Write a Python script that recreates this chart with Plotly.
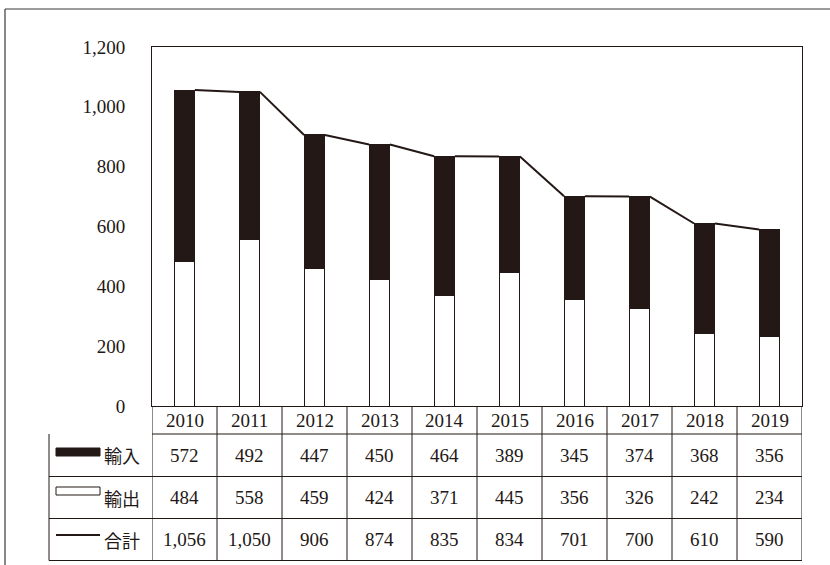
import plotly.graph_objects as go

# Yearly trade volume: imports (輸入), exports (輸出) and their total (合計)
years = ["2010", "2011", "2012", "2013", "2014", "2015", "2016", "2017", "2018", "2019"]
imports = [572, 492, 447, 450, 464, 389, 345, 374, 368, 356]
exports = [484, 558, 459, 424, 371, 445, 356, 326, 242, 234]
totals = [1056, 1050, 906, 874, 835, 834, 701, 700, 610, 590]
row_labels = ["輸入", "輸出", "合計"]
y_ticks = [0, 200, 400, 600, 800, 1000, 1200]

INK = "#231815"
FONT = "Times New Roman"
JP_FONT = "Noto Sans CJK JP"
W, H = 830, 565
L, R, T, B = 152, 802, 47, 406  # plot area in pixels
BAR_W = 0.32


def px_x(px):
    return (px - L) / (R - L)


def px_y(py):
    return (B - py) / (B - T)


xs = list(range(len(years)))

fig = go.Figure()
fig.add_trace(go.Bar(
    x=xs, y=exports, name=row_labels[1], width=BAR_W,
    marker=dict(color="white", line=dict(color=INK, width=1)),
))
fig.add_trace(go.Bar(
    x=xs, y=imports, name=row_labels[0], width=BAR_W,
    marker=dict(color=INK, line=dict(color=INK, width=1)),
))

# Series lines joining the tops of neighbouring stacks
lx, ly = [], []
for i in range(len(xs) - 1):
    lx += [xs[i] + BAR_W / 2, xs[i + 1] - BAR_W / 2, None]
    ly += [totals[i], totals[i + 1], None]
fig.add_trace(go.Scatter(
    x=lx, y=ly, mode="lines", name=row_labels[2],
    line=dict(color=INK, width=2), connectgaps=False,
))

shapes = []
annotations = []

# Data table below the axis
row_lines = [406, 434, 476.5, 518.5, 560.5]
table_left = px_x(49)
shapes.append(dict(type="line", xref="paper", yref="paper",
                   x0=0, x1=1, y0=px_y(row_lines[1]), y1=px_y(row_lines[1]),
                   line=dict(color=INK, width=1)))
for py in row_lines[2:]:
    shapes.append(dict(type="line", xref="paper", yref="paper",
                       x0=table_left, x1=1, y0=px_y(py), y1=px_y(py),
                       line=dict(color=INK, width=1)))
shapes.append(dict(type="line", xref="paper", yref="paper",
                   x0=table_left, x1=table_left,
                   y0=px_y(row_lines[1]), y1=px_y(row_lines[-1]),
                   line=dict(color=INK, width=1)))
for i in range(len(years) + 1):
    shapes.append(dict(type="line", xref="x", yref="paper",
                       x0=i - 0.5, x1=i - 0.5,
                       y0=px_y(row_lines[0]), y1=px_y(row_lines[-1]),
                       line=dict(color=INK, width=1)))

# year header
for i, yr in enumerate(years):
    annotations.append(dict(x=i, y=px_y((row_lines[0] + row_lines[1]) / 2),
                            xref="x", yref="paper", text=yr, showarrow=False,
                            font=dict(family=FONT, size=19, color=INK),
                            xanchor="center", yanchor="middle"))

rows = [imports, exports, totals]
for r, vals in enumerate(rows):
    yc = (row_lines[r + 1] + row_lines[r + 2]) / 2
    for i, v in enumerate(vals):
        annotations.append(dict(x=i, y=px_y(yc), xref="x", yref="paper",
                                text=f"{v:,}", showarrow=False,
                                font=dict(family=FONT, size=19, color=INK),
                                xanchor="center", yanchor="middle"))
    annotations.append(dict(x=px_x(142), y=px_y(yc), xref="paper", yref="paper",
                            text=row_labels[r], showarrow=False,
                            font=dict(family=JP_FONT, size=18, color=INK),
                            xanchor="right", yanchor="middle"))

# legend keys inside the label column
shapes.append(dict(type="rect", xref="paper", yref="paper",
                   x0=px_x(56), x1=px_x(100), y0=px_y(448), y1=px_y(456),
                   fillcolor=INK, line=dict(color=INK, width=1)))
shapes.append(dict(type="rect", xref="paper", yref="paper",
                   x0=px_x(56), x1=px_x(100), y0=px_y(487), y1=px_y(495),
                   fillcolor="white", line=dict(color=INK, width=1)))
shapes.append(dict(type="line", xref="paper", yref="paper",
                   x0=px_x(56), x1=px_x(100), y0=px_y(535), y1=px_y(535),
                   line=dict(color=INK, width=2)))

# outer frame
shapes.append(dict(type="line", xref="paper", yref="paper",
                   x0=px_x(5), x1=px_x(840), y0=px_y(9), y1=px_y(9),
                   line=dict(color="#3a3a3a", width=1.2)))
shapes.append(dict(type="line", xref="paper", yref="paper",
                   x0=px_x(5), x1=px_x(5), y0=px_y(9), y1=px_y(580),
                   line=dict(color="#3a3a3a", width=1.2)))

fig.update_layout(
    width=W, height=H,
    margin=dict(l=L, r=W - R, t=T, b=H - B),
    barmode="stack",
    showlegend=False,
    plot_bgcolor="white", paper_bgcolor="white",
    font=dict(family=FONT, size=19, color=INK),
    shapes=shapes,
    annotations=annotations,
    xaxis=dict(range=[-0.5, len(years) - 0.5], showticklabels=False,
               showgrid=False, zeroline=False, showline=True, mirror=True,
               linecolor=INK, linewidth=1, ticks=""),
    yaxis=dict(range=[0, 1200], tickvals=y_ticks, tickformat=",",
               showgrid=False, zeroline=False, showline=True, mirror=True,
               linecolor=INK, linewidth=1, ticks="", ticklabelstandoff=22,
               tickfont=dict(family=FONT, size=19, color=INK)),
)

fig.write_html("out.html")
